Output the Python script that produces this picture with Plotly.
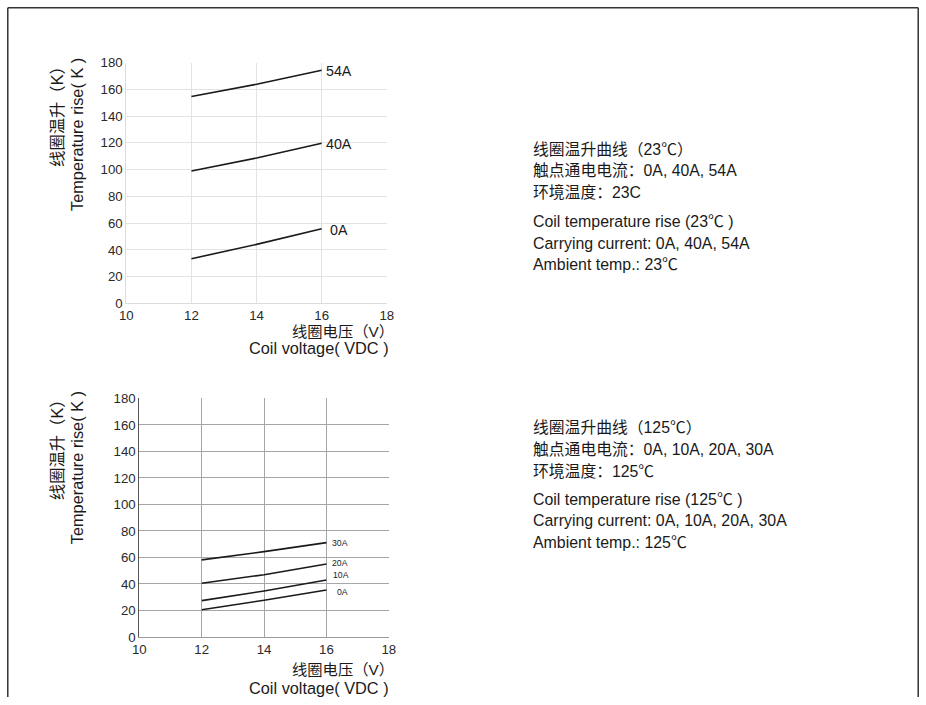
import plotly.graph_objects as go

W, H = 926, 705

# ---- data ----
voltage = [12, 14, 16]

top_series = ["54A", "40A", "0A"]
top_values = [
    [154.6, 163.8, 174.3],
    [99.0, 108.7, 119.7],
    [33.4, 44.1, 55.8],
]

bot_series = ["30A", "20A", "10A", "0A"]
bot_values = [
    [58.2, 64.4, 71.2],
    [40.5, 47.0, 55.1],
    [27.4, 34.7, 43.0],
    [20.6, 27.7, 35.5],
]

x_ticks = [10, 12, 14, 16, 18]
y_ticks = [0, 20, 40, 60, 80, 100, 120, 140, 160, 180]

y_title_cn = "线圈温升（K）"
y_title_en = "Temperature rise( K )"
x_title_cn = "线圈电压（V）"
x_title_en = "Coil voltage( VDC )"

top_text = ["线圈温升曲线（23℃）", "触点通电电流：0A, 40A, 54A", "环境温度：23C",
            "Coil temperature rise (23℃ )", "Carrying current: 0A, 40A, 54A", "Ambient temp.: 23℃"]
bot_text = ["线圈温升曲线（125℃）", "触点通电电流：0A, 10A, 20A, 30A", "环境温度：125℃",
            "Coil temperature rise (125℃ )", "Carrying current: 0A, 10A, 20A, 30A", "Ambient temp.: 125℃"]

FONT = "Liberation Sans, Arial, Noto Sans CJK SC, sans-serif"
TXT = "#1a1a1a"

# the page is photographed with a small offset and scale; compensate
OX, SX = 7.9, 0.983
OY, SY = 7.8, 0.978
FS = 1 / 0.98


def px(x):
    return ((x - OX) / SX) / W


def py(y):
    return 1 - ((y - OY) / SY) / H


def f(s):
    return s * FS


fig = go.Figure()

top_xshift = [2, 2, 6]
for name, vals, xs in zip(top_series, top_values, top_xshift):
    fig.add_trace(go.Scatter(x=voltage, y=vals, mode="lines", xaxis="x", yaxis="y",
                             line=dict(color="#1a1a1a", width=1.6), showlegend=False, hoverinfo="skip"))
    fig.add_annotation(x=voltage[-1], y=vals[-1], xref="x", yref="y", text=name, showarrow=False,
                       xanchor="left", yanchor="middle", xshift=xs, yshift=-1,
                       font=dict(size=f(14), color=TXT, family=FONT))

bot_xshift = [4, 4, 5, 9]
bot_yshift = [0, 1, 5, -2]
for name, vals, xs, ys in zip(bot_series, bot_values, bot_xshift, bot_yshift):
    fig.add_trace(go.Scatter(x=voltage, y=vals, mode="lines", xaxis="x2", yaxis="y2",
                             line=dict(color="#1a1a1a", width=1.6), showlegend=False, hoverinfo="skip"))
    fig.add_annotation(x=voltage[-1], y=vals[-1], xref="x2", yref="y2", text=name, showarrow=False,
                       xanchor="left", yanchor="middle", xshift=xs, yshift=ys,
                       font=dict(size=f(8.5), color=TXT, family=FONT))

axis_common = dict(tickfont=dict(size=f(13), color="#2a2a2a", family=FONT), ticks="",
                   showgrid=True, zeroline=False, showline=True, fixedrange=True)

fig.update_layout(
    width=W, height=H,
    margin=dict(l=0, r=0, t=0, b=0),
    paper_bgcolor="white", plot_bgcolor="white",
    font=dict(family=FONT, color=TXT),
    xaxis=dict(domain=[px(127), px(387)], anchor="y", range=[10, 18], tickvals=x_ticks,
               gridcolor="#e3e3e3", linecolor="#dcdcdc", **axis_common),
    yaxis=dict(domain=[py(304), py(63.3)], anchor="x", range=[0, 180], tickvals=y_ticks,
               gridcolor="#e3e3e3", linecolor="#dcdcdc", **axis_common),
    xaxis2=dict(domain=[px(140), px(389)], anchor="y2", range=[10, 18], tickvals=x_ticks,
                gridcolor="#a6a6a6", linecolor="#999999", **axis_common),
    yaxis2=dict(domain=[py(637.3), py(399)], anchor="x2", range=[0, 180], tickvals=y_ticks,
                gridcolor="#a6a6a6", linecolor="#555555", **axis_common),
)

# axis titles (positions in reference pixels)
for (y_top, cn_y, en_y) in [(57, 332, 349), (390, 669.5, 688)]:
    fig.add_annotation(x=px(58), y=py(y_top), xref="paper", yref="paper", text=y_title_cn,
                       textangle=-90, showarrow=False, xanchor="center", yanchor="top",
                       font=dict(size=f(16), color=TXT, family=FONT))
    fig.add_annotation(x=px(78), y=py(y_top), xref="paper", yref="paper", text=y_title_en,
                       textangle=-90, showarrow=False, xanchor="center", yanchor="top",
                       font=dict(size=f(16), color=TXT, family=FONT))
    fig.add_annotation(x=px(396), y=py(cn_y), xref="paper", yref="paper", text=x_title_cn,
                       showarrow=False, xanchor="right", yanchor="middle",
                       font=dict(size=f(15), color=TXT, family=FONT))
    fig.add_annotation(x=px(391), y=py(en_y), xref="paper", yref="paper", text=x_title_en,
                       showarrow=False, xanchor="right", yanchor="middle",
                       font=dict(size=f(16), color=TXT, family=FONT))

# side text blocks
top_ys = [150, 171.5, 192.5, 222.5, 244, 265.5]
bot_ys = [428, 449.5, 471, 499.5, 520.5, 542.5]
for lines, ys in [(top_text, top_ys), (bot_text, bot_ys)]:
    for i, (t, yy) in enumerate(zip(lines, ys)):
        fig.add_annotation(x=px(531), y=py(yy), xref="paper", yref="paper", text=t,
                           showarrow=False, xanchor="left", yanchor="middle",
                           font=dict(size=f(15.5 if i < 3 else 15.6), color=TXT, family=FONT))

# page border (top, left, right)
border = dict(color="#333333", width=1.5)
bx0, bx1, by0 = 0.8 / W, 1 - 0.8 / W, 1 - 0.8 / H
fig.add_shape(type="line", xref="paper", yref="paper", x0=bx0, x1=bx1, y0=by0, y1=by0, line=border)
fig.add_shape(type="line", xref="paper", yref="paper", x0=bx0, x1=bx0, y0=by0, y1=0, line=border)
fig.add_shape(type="line", xref="paper", yref="paper", x0=bx1, x1=bx1, y0=by0, y1=0, line=border)

fig.write_html("out.html", config={"displayModeBar": False},
               post_script="document.body.style.margin='0';document.body.style.overflow='hidden';")
